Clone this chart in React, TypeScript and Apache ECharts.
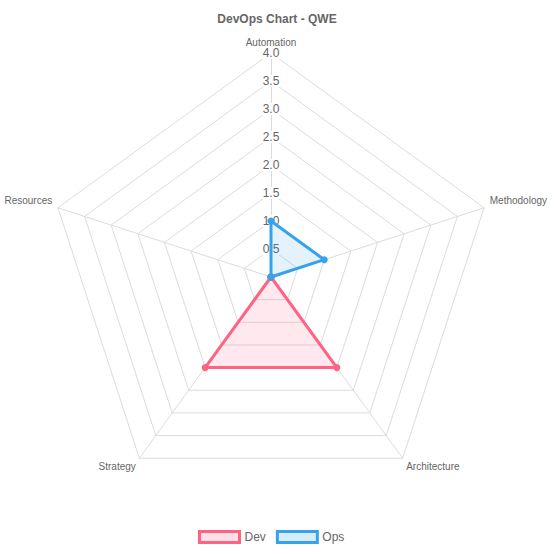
import React, { useEffect, useRef } from "react";
import * as echarts from "echarts";

// Indicators listed counter-clockwise from the top (ECharts radar order),
// which places them clockwise as Automation, Methodology, Architecture, Strategy, Resources.
const indicators = ["Automation", "Resources", "Strategy", "Architecture", "Methodology"];
const devValues = [0, 0, 2, 2, 0];
const opsValues = [1, 0, 0, 0, 1];
const maxValue = 4;
const tickStep = 0.5;

export default function App() {
  const ref = useRef<HTMLDivElement>(null);
  useEffect(() => {
    const chart = echarts.init(ref.current!, null, { renderer: "svg" });
    const font = "'Liberation Sans', Helvetica, Arial, sans-serif";
    const nameBase = { color: "#666", fontSize: 10, fontFamily: font };
    chart.setOption({
      animation: false,
      textStyle: { fontFamily: font },
      title: {
        text: "DevOps Chart - QWE",
        left: "center",
        top: 8,
        textStyle: { fontSize: 12, fontWeight: "bold", color: "#666", fontFamily: font },
      },
      legend: {
        bottom: 5,
        left: 193,
        itemWidth: 40,
        itemHeight: 11,
        itemGap: 10,
        icon: "rect",
        textStyle: { fontSize: 12, color: "#666", fontFamily: font },
        data: [
          {
            name: "Dev",
            itemStyle: { color: "rgba(255,99,132,0.2)", borderColor: "rgb(255,99,132)", borderWidth: 3 },
          },
          {
            name: "Ops",
            itemStyle: { color: "rgba(54,162,235,0.2)", borderColor: "rgb(54,162,235)", borderWidth: 3 },
          },
        ],
      },
      radar: {
        center: [271, 277],
        radius: 224,
        startAngle: 90,
        splitNumber: maxValue / tickStep,
        shape: "polygon",
        nameGap: 6,
        axisName: {
          ...nameBase,
          formatter: (name: string) => {
            if (name === "Resources" || name === "Methodology") return `{side|${name}}`;
            if (name === "Strategy" || name === "Architecture") return `{low|${name}}`;
            return `{top|${name}}`;
          },
          rich: {
            top: { ...nameBase },
            side: { ...nameBase, padding: [0, 0, 10, 0] },
            low: { ...nameBase, padding: [6, 0, 0, 0] },
          },
        },
        indicator: indicators.map((name, i) =>
          i === 0
            ? {
                name,
                min: 0,
                max: maxValue,
                axisLabel: {
                  show: true,
                  showMinLabel: false,
                  align: "center",
                  verticalAlign: "middle",
                  margin: 0,
                  color: "#666",
                  fontSize: 12,
                  fontFamily: font,
                  backgroundColor: "#fff",
                  padding: [0, 2],
                  formatter: (v: number) => (v === 0 ? "" : v.toFixed(1)),
                },
              }
            : { name, min: 0, max: maxValue }
        ),
        axisLabel: { show: false },
        axisTick: { show: false },
        axisLine: { lineStyle: { color: "#dcdcdc", width: 1 } },
        splitLine: { lineStyle: { color: "#dcdcdc", width: 1 } },
        splitArea: { show: false },
      },
      series: [
        {
          type: "radar",
          z: 2,
          data: [
            {
              name: "Dev",
              value: devValues,
              symbol: "circle",
              symbolSize: 7,
              itemStyle: { color: "rgb(255,99,132)" },
              lineStyle: { color: "rgb(255,99,132)", width: 3 },
              areaStyle: { color: "rgba(255,99,132,0.2)" },
            },
            {
              name: "Ops",
              value: opsValues,
              symbol: "circle",
              symbolSize: 7,
              itemStyle: { color: "rgb(54,162,235)" },
              lineStyle: { color: "rgb(54,162,235)", width: 3 },
              areaStyle: { color: "rgba(54,162,235,0.2)" },
            },
          ],
        },
      ],
    });
    return () => chart.dispose();
  }, []);
  return (
    <div
      ref={ref}
      style={{ position: "fixed", left: 0, top: 0, width: 554, height: 554, background: "#fff" }}
    />
  );
}
